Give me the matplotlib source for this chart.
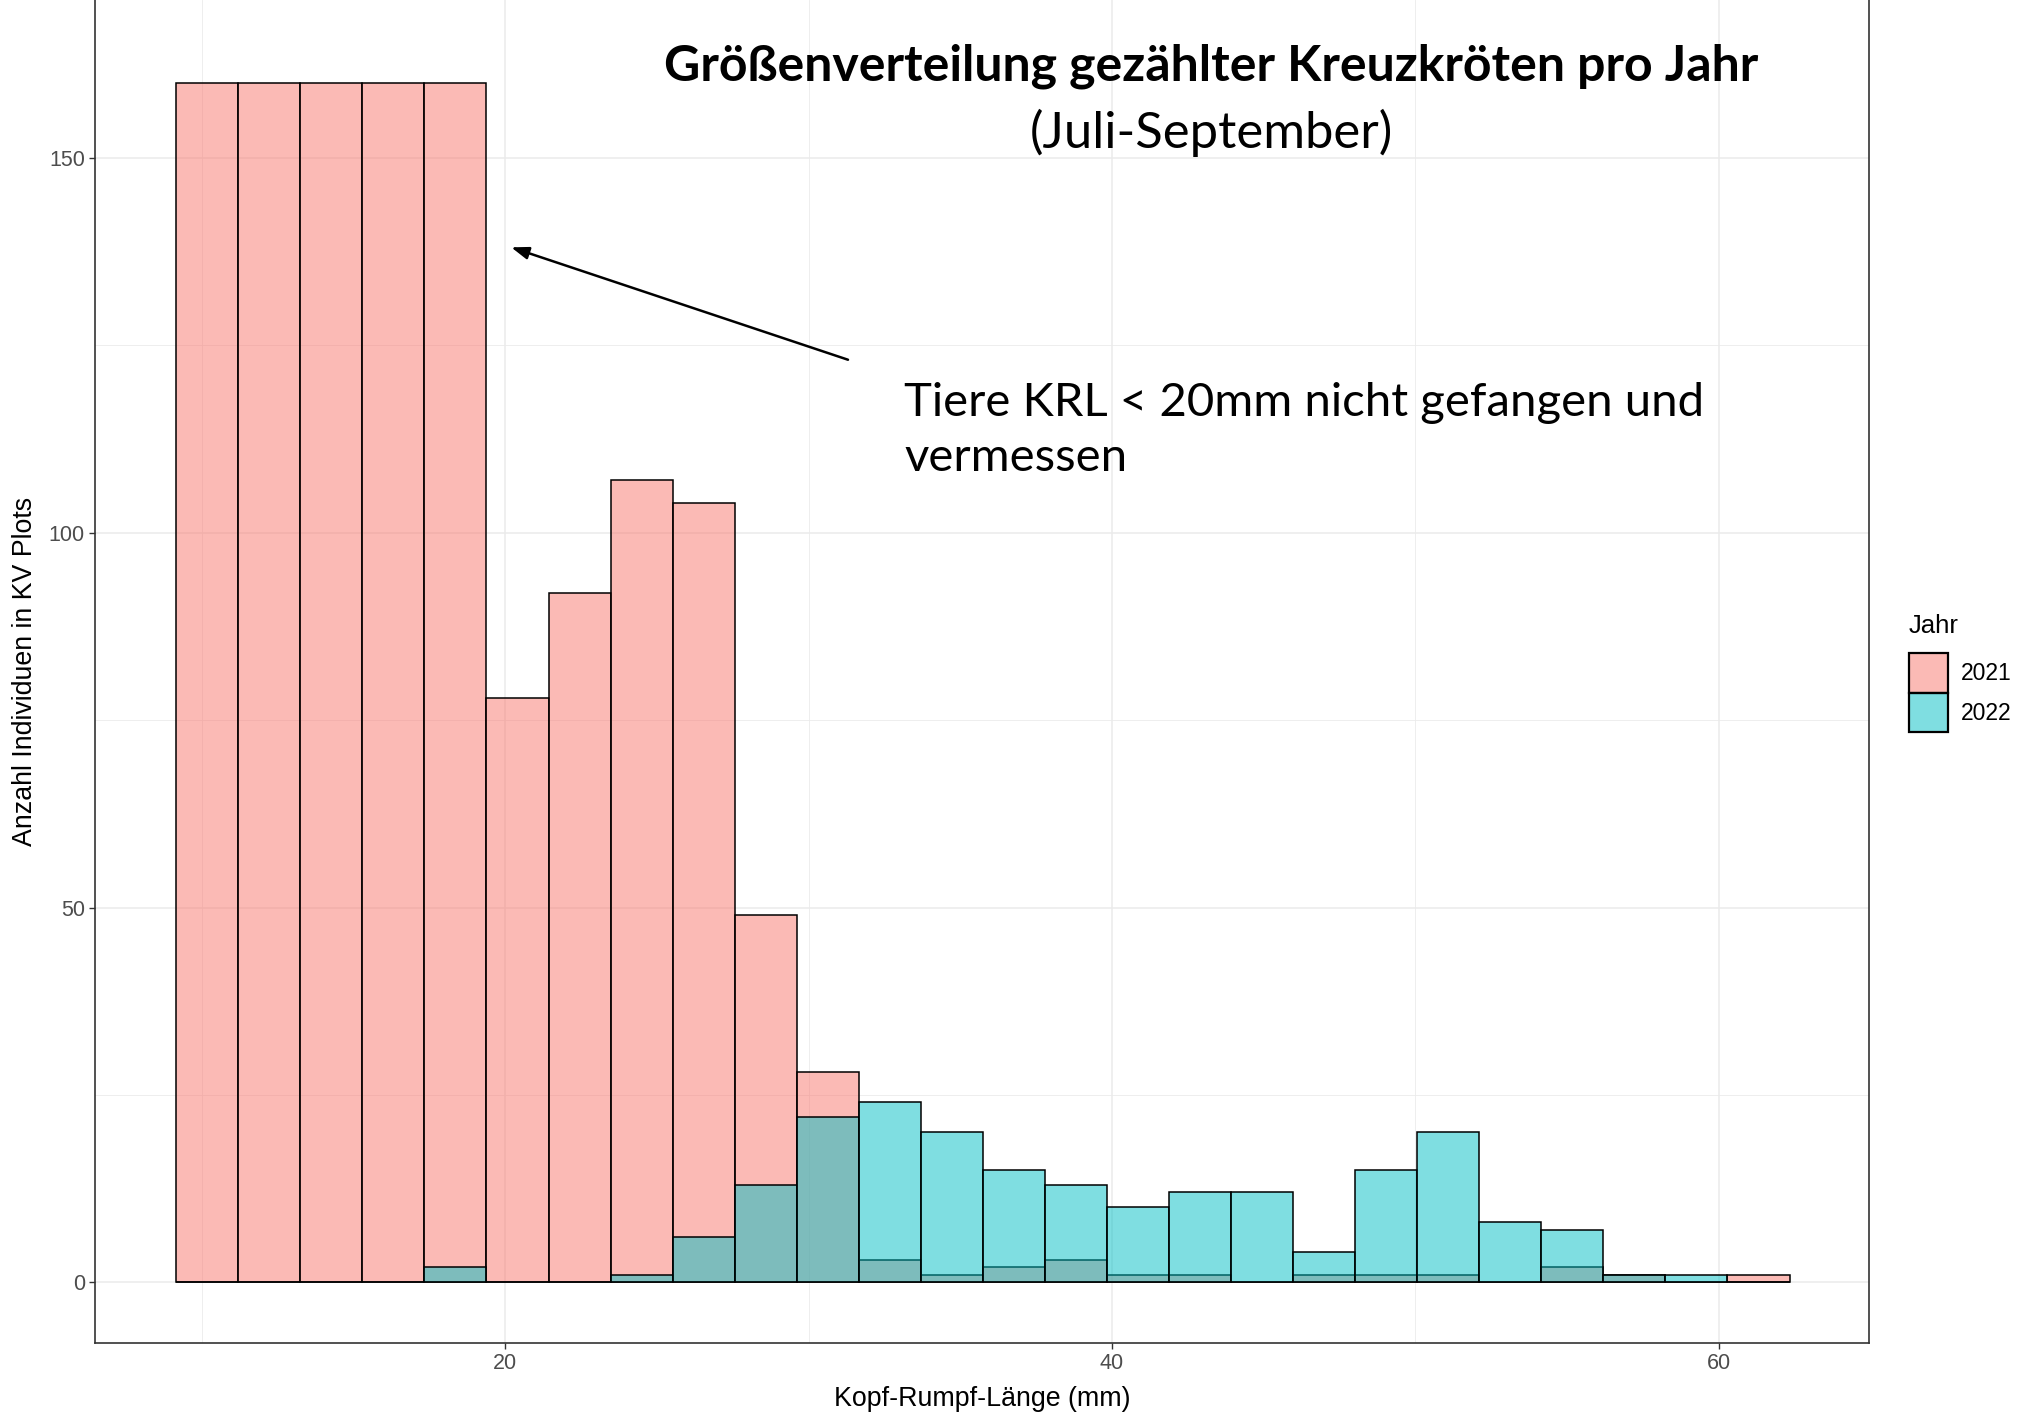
import numpy as np
import matplotlib.pyplot as plt
from matplotlib.colors import to_rgba
from matplotlib.patches import Patch

# counts per size class (Kopf-Rumpf-Laenge in mm)
bin_start = 9.16
bin_width = 2.045
count_2021 = [160, 160, 160, 160, 160, 78, 92, 107, 104, 49, 28, 3, 1,
              2, 3, 1, 1, 0, 1, 1, 1, 0, 2, 1, 0, 1]
count_2022 = [0, 0, 0, 0, 2, 0, 0, 1, 6, 13, 22, 24, 20,
              15, 13, 10, 12, 12, 4, 15, 20, 8, 7, 1, 1, 0]
years = ['2021', '2022']
colors = ['#F8766D', '#00BFC4']
x_ticks = [20, 40, 60]
y_ticks = [0, 50, 100, 150]

W, H = 2031, 1418
fig = plt.figure(figsize=(W / 100, H / 100), dpi=100)
left, right, bottom = 94.6, 1869, 1343
ax = fig.add_axes([left / W, 1 - bottom / H, (right - left) / W, bottom / H])

edges = bin_start + bin_width * np.arange(len(count_2021))
for counts, col in zip([count_2021, count_2022], colors):
    ax.bar(edges, counts, width=bin_width, align='edge',
           facecolor=to_rgba(col, 0.5), edgecolor='black', linewidth=1.1, zorder=3)

ax.set_xlim(6.47, 64.95)
ax.set_ylim(-8.1, 171.1)
ax.set_xticks(x_ticks)
ax.set_yticks(y_ticks)
ax.set_xticks([10, 30, 50], minor=True)
ax.set_yticks([25, 75, 125], minor=True)
ax.grid(which='major', color='#EBEBEB', linewidth=1.1, zorder=0)
ax.grid(which='minor', color='#EBEBEB', linewidth=0.6, zorder=0)
ax.set_axisbelow(True)
ax.tick_params(which='minor', length=0)
ax.tick_params(which='major', length=4, width=1, color='#333333',
               labelsize=15.5, labelcolor='#4D4D4D', pad=3)
for lab in ax.get_xticklabels() + ax.get_yticklabels():
    lab.set_family('Liberation Sans')
for s in ['left', 'right', 'bottom']:
    ax.spines[s].set_color('#333333')
    ax.spines[s].set_linewidth(1.2)
ax.spines['top'].set_visible(False)

fig.text(0.5 * (left + right) / W, 1 - 1399 / H, 'Kopf-Rumpf-Länge (mm)',
         ha='center', va='center', fontsize=19.3, family='Liberation Sans')
fig.text(25 / W, 1 - 671 / H, 'Anzahl Individuen in KV Plots', rotation=90,
         ha='center', va='center', fontsize=19.3, family='Liberation Sans')

# title and note (overlaid text)
ax.text(43.26, 162.3, 'Größenverteilung gezählter Kreuzkröten pro Jahr',
        ha='center', va='center', fontsize=36, fontweight='bold', family='Lato', zorder=5)
ax.text(43.26, 153.4, '(Juli-September)', ha='center', va='center',
        fontsize=36.5, family='Lato', zorder=5)
ax.text(33.15, 113.7, 'Tiere KRL < 20mm nicht gefangen und\nvermessen',
        ha='left', va='center', fontsize=34, family='Lato', linespacing=1.38, zorder=5)
ax.annotate('', xy=(20.2, 138.1), xytext=(31.3, 123.1),
            arrowprops=dict(arrowstyle='-|>,head_length=0.7,head_width=0.25',
                            color='black', lw=1.8, shrinkA=0, shrinkB=0,
                            mutation_scale=15), zorder=5)

handles = [Patch(facecolor=to_rgba(c, 0.5), edgecolor='black', linewidth=1.6) for c in colors]
leg = fig.legend(handles, years, loc='upper left', bbox_to_anchor=(1909 / W, 1 - 614 / H),
                 frameon=False, title='Jahr', alignment='left', borderpad=0, borderaxespad=0,
                 handlelength=1.72, handleheight=2.28, labelspacing=0, handletextpad=0.55,
                 prop={'family': 'Liberation Sans', 'size': 16.5})
leg.get_title().set_fontsize(18.5)
leg.get_title().set_family('Liberation Sans')
leg._legend_box.sep = 11  # gap between title and keys

fig.savefig('out.png', dpi=100)
